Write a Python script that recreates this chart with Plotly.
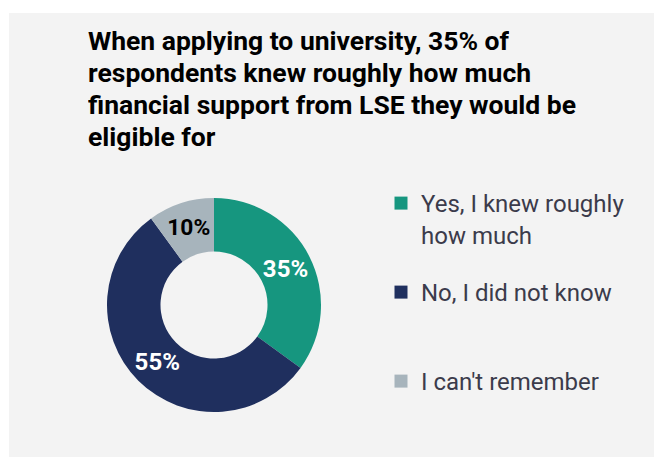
import plotly.graph_objects as go

# Data
labels = ["Yes, I knew roughly how much", "No, I did not know", "I can't remember"]
legend_names = ["Yes, I knew roughly<br>how much", "No, I did not know", "I can't remember"]
values = [35, 55, 10]
colors = ["#16967F", "#1F2F5E", "#A7B4BC"]
text_colors = ["white", "white", "black"]
title_lines = ["When applying to university, 35% of",
               "respondents knew roughly how much",
               "financial support from LSE they would be",
               "eligible for"]

W, H = 654, 457
ML, MT = 9, 13
PW, PH = W - ML, H - MT

def px(x):
    return (x - ML) / PW

def py(y):
    return 1 - (y - MT) / PH

fig = go.Figure()
fig.add_trace(go.Pie(
    labels=labels,
    values=values,
    hole=0.5,
    sort=False,
    direction="clockwise",
    rotation=0,
    marker=dict(colors=colors, line=dict(width=0)),
    texttemplate="<b>%{percent:.0%}</b>",
    textposition="inside",
    insidetextorientation="horizontal",
    insidetextfont=dict(family="Roboto", size=24, color=text_colors),
    domain=dict(x=[px(107), px(321)], y=[py(412), py(198)]),
    hoverinfo="label+percent",
    showlegend=False,
))

# Legend entries (one legend per entry so their spacing matches the reference)
legend_ids = ["legend", "legend2", "legend3"]
legend_tops = [181, 270, 359]
for name, col, lid in zip(legend_names, colors, legend_ids):
    fig.add_trace(go.Scatter(
        x=[None], y=[None], mode="markers", name=name, legend=lid,
        marker=dict(symbol="square", size=13, color=col, line=dict(width=0)),
        hoverinfo="skip", showlegend=True,
    ))

fig.add_shape(type="rect", xref="paper", yref="paper", x0=0, x1=1, y0=0, y1=1,
              fillcolor="#F3F3F3", line=dict(width=0), layer="below")

line_y0, line_gap = 24.5, 32
for i, line in enumerate(title_lines):
    fig.add_annotation(text="<b>" + line + "</b>", xref="paper", yref="paper",
                       x=px(88), y=py(line_y0 + i * line_gap), xanchor="left", yanchor="top",
                       align="left", valign="middle", height=30, borderpad=0, borderwidth=0,
                       showarrow=False,
                       font=dict(family="Roboto", size=26.5, color="#000000"))

legend_font = dict(family="Roboto", size=24, color="#3B3B4B")
legend_common = dict(xanchor="left", yanchor="top", valign="top",
                     bgcolor="rgba(0,0,0,0)", font=legend_font, borderwidth=0)

fig.update_layout(
    width=W, height=H,
    margin=dict(l=ML, r=0, t=MT, b=0),
    paper_bgcolor="white",
    plot_bgcolor="#F3F3F3",
    showlegend=True,
    xaxis=dict(visible=False),
    yaxis=dict(visible=False),
    legend=dict(x=px(381), y=py(legend_tops[0]), **legend_common),
    legend2=dict(x=px(381), y=py(legend_tops[1]), **legend_common),
    legend3=dict(x=px(381), y=py(legend_tops[2]), **legend_common),
)

fig.write_html("out.html", config={"displayModeBar": False},
               post_script="document.body.style.margin='0';document.body.style.overflow='hidden';")
